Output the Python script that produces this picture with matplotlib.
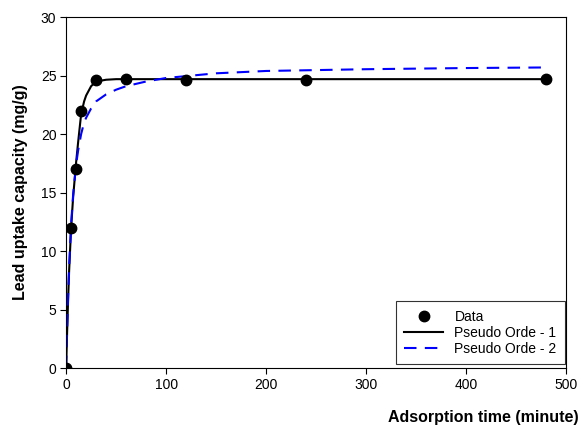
import numpy as np
import matplotlib.pyplot as plt

plt.rcParams['font.family'] = ['Liberation Sans', 'DejaVu Sans']

# measured data
t_data = [0, 5, 10, 15, 30, 60, 120, 240, 480]
q_data = [0, 12.0, 17.0, 22.0, 24.6, 24.7, 24.6, 24.6, 24.7]

# fitted curves
t_fit = [0, 1, 2, 3, 5, 7, 10, 12, 15, 18, 20, 25, 30, 40, 50, 60, 80, 100, 150, 200, 300, 400, 480]
q_po1 = [0, 3.1, 5.9, 8.3, 12.0, 14.6, 17.6, 19.3, 21.7, 22.8, 23.3, 24.1, 24.5, 24.65, 24.7, 24.7,
         24.7, 24.7, 24.7, 24.7, 24.7, 24.7, 24.7]
q_po2 = [0, 3.2, 6.2, 8.6, 12.3, 14.8, 17.4, 18.6, 20.0, 21.0, 21.4, 22.2, 22.8, 23.4, 23.8, 24.1,
         24.5, 24.8, 25.2, 25.4, 25.55, 25.65, 25.7]

fig = plt.figure(figsize=(5.8, 4.29), dpi=100)
ax = fig.add_axes([0.114, 0.142, 0.862, 0.818])

ax.plot(t_data, q_data, 'o', color='black', markersize=7.5, label='Data', zorder=3)
ax.plot(t_fit, q_po1, '-', color='black', linewidth=1.5, label='Pseudo Orde - 1')
ax.plot(t_fit, q_po2, '--', color='#0000ff', linewidth=1.5, dashes=(6, 4), label='Pseudo Orde - 2')

ax.set_xlim(0, 500)
ax.set_ylim(0, 30)
ax.set_xticks([0, 100, 200, 300, 400, 500])
ax.set_yticks([0, 5, 10, 15, 20, 25, 30])
ax.tick_params(direction='out', length=4, width=0.8, labelsize=10, pad=3)
for s in ax.spines.values():
    s.set_linewidth(0.8)

ax.set_ylabel('Lead uptake capacity (mg/g)', fontsize=11.5, fontweight='bold', labelpad=9)
fig.text(0.997, 0.026, 'Adsorption time (minute)', fontsize=11.5, fontweight='bold', ha='right', va='center')

leg = ax.legend(loc='lower right', bbox_to_anchor=(0.998, 0.011), borderaxespad=0,
                fontsize=10, frameon=True, fancybox=False, edgecolor='black',
                handlelength=2.8, labelspacing=0.15, borderpad=0.6)
leg.get_frame().set_linewidth(0.8)

fig.savefig('out.png', dpi=100)
